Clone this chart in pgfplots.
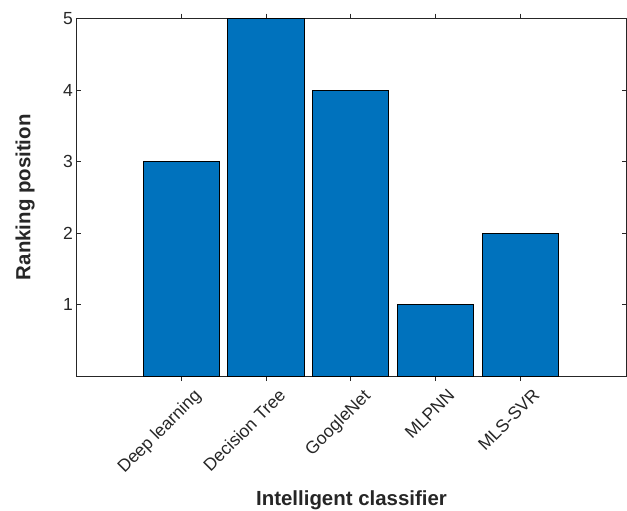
\documentclass[border=0pt]{standalone}
\usepackage{fontspec}
\setmainfont{Liberation Sans}
\usepackage{pgfplots}
\pgfplotsset{compat=1.18}
\definecolor{barblue}{RGB}{0,114,189}
\definecolor{axgray}{RGB}{38,38,38}
\begin{document}
\begin{tikzpicture}
\begin{axis}[name=ax, scale only axis, width=550bp, height=357.5bp,
  xmin=-1.235, xmax=5.255, ymin=0, ymax=5,
  ytick={1,2,3,4,5},
  xtick={0,1,2,3,4},
  xticklabels={Deep learning, Decision Tree, GoogleNet, MLPNN, MLS-SVR},
  tick align=inside, major tick length=5bp,
  axis line style={axgray, line width=0.7bp},
  tick style={axgray, line width=0.7bp},
  ybar, bar width=0.9, bar shift=0pt,
  tick label style={font=\fontsize{17.6}{21}\selectfont, text=axgray},
  xticklabel style={rotate=45, anchor=north east, xshift=7bp, yshift=-9.5bp},
  /pgf/number format/assume math mode=true,
  every axis y label/.style={at={(axis description cs:-0.0936,0.5)}, rotate=90, anchor=center},
  every axis x label/.style={at={(axis description cs:0.5,-0.347)}, anchor=center},
  label style={font=\fontsize{20.5}{24}\selectfont\bfseries, text=axgray},
  ylabel={Ranking position},
  xlabel={Intelligent classifier},
]
\addplot[fill=barblue, draw=black, line width=0.7bp] coordinates {(0,3) (1,5) (2,4) (3,1) (4,2)};
\end{axis}
\pgfresetboundingbox
\path[use as bounding box] (ax.south west) ++(-76.5bp,-135bp) rectangle ++(627bp,511bp);
\end{tikzpicture}
\end{document}
